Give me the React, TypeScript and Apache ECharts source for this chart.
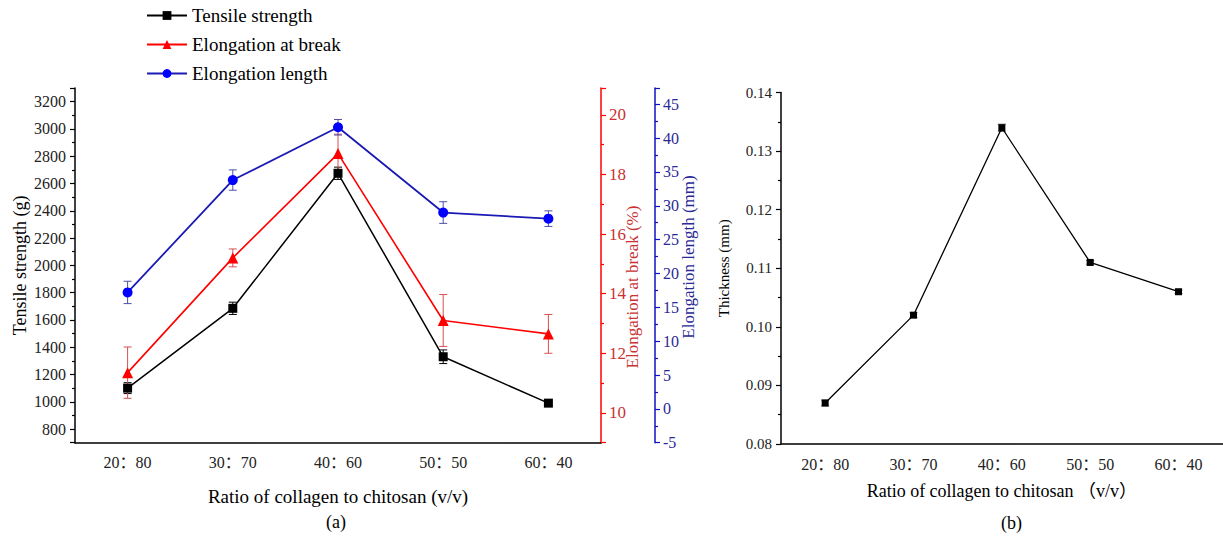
import React, { useEffect, useRef } from "react";
import * as echarts from "echarts";

const categories = ["20：80", "30：70", "40：60", "50：50", "60：40"];
const tensile = [1100, 1685, 2675, 1330, 990];
const tensileErr = [40, 45, 45, 50, 10];
const elongBreak = [11.35, 15.2, 18.7, 13.1, 12.65];
const elongBreakErr = [0.86, 0.3, 0.65, 0.87, 0.65];
const elongLen = [17.2, 33.8, 41.6, 29.0, 28.1];
const elongLenErr = [1.65, 1.5, 1.15, 1.6, 1.15];
const thickness = [0.087, 0.102, 0.134, 0.111, 0.106];
const thicknessErr = [0.0005, 0.0004, 0.0006, 0.0003, 0.0003];

const SERIF = "'Liberation Serif', 'DejaVu Serif', 'Noto Sans CJK SC', serif";
const RED = "#ff0000";
const RED_TXT = "#c83232";
const BLUE = "#0000ff";
const BLUE_AX = "#1010c0";
const BLUE_TXT = "#2a2a96";

function errSeries(vals: number[], errs: number[], color: string, xAxisIndex: number, yAxisIndex: number) {
  return {
    type: "custom",
    xAxisIndex,
    yAxisIndex,
    z: 1,
    silent: true,
    data: vals.map((v, i) => [i, v - errs[i], v + errs[i]]),
    encode: { x: 0, y: [1, 2] },
    renderItem: (params: any, api: any) => {
      const lo = api.coord([api.value(0), api.value(1)]);
      const hi = api.coord([api.value(0), api.value(2)]);
      const w = 4;
      const style = { stroke: color, lineWidth: 1, fill: "none" };
      return {
        type: "group",
        children: [
          { type: "line", shape: { x1: lo[0], y1: lo[1], x2: hi[0], y2: hi[1] }, style },
          { type: "line", shape: { x1: lo[0] - w, y1: lo[1], x2: lo[0] + w, y2: lo[1] }, style },
          { type: "line", shape: { x1: hi[0] - w, y1: hi[1], x2: hi[0] + w, y2: hi[1] }, style },
        ],
      };
    },
  };
}

function catAxis(gridIndex: number, labelSize: number, name: string, nameGap: number, nameSize: number) {
  return [
    {
      type: "category",
      gridIndex,
      data: categories,
      boundaryGap: true,
      axisLine: { onZero: false, lineStyle: { color: "#000", width: 1.5 } },
      axisTick: { alignWithLabel: true, length: 5, lineStyle: { color: "#000", width: 1.2 } },
      axisLabel: { color: "#222", fontSize: labelSize, fontFamily: SERIF, margin: 12 },
      splitLine: { show: false },
      name,
      nameLocation: "middle",
      nameGap,
      nameTextStyle: { color: "#000", fontSize: nameSize, fontFamily: SERIF },
    },
    {
      type: "category",
      gridIndex,
      data: categories,
      boundaryGap: true,
      axisLine: { show: false, onZero: false },
      axisTick: { alignWithLabel: false, length: 4, lineStyle: { color: "#000", width: 1.2 } },
      axisLabel: { show: false },
      splitLine: { show: false },
    },
  ];
}

export default function App() {
  const ref = useRef<HTMLDivElement>(null);
  useEffect(() => {
    if (!ref.current) return;
    const chart = echarts.init(ref.current, null, { renderer: "svg" });
    const plain = (v: number) => String(v);
    const option: any = {
      animation: false,
      backgroundColor: "#fff",
      textStyle: { fontFamily: SERIF },
      legend: {
        orient: "vertical",
        left: 141,
        top: 1,
        itemWidth: 40,
        itemHeight: 11,
        itemGap: 10,
        data: ["Tensile strength", "Elongation at break", "Elongation length"],
        textStyle: { fontSize: 19, fontFamily: SERIF, color: "#000" },
      },
      grid: [
        { left: 75, top: 88, width: 526, height: 354.7 },
        { left: 781, top: 92.6, width: 441.7, height: 351.4 },
      ],
      xAxis: [
        ...catAxis(0, 16, "Ratio of collagen to chitosan (v/v)", 44, 19),
        ...catAxis(1, 16, "Ratio of collagen to chitosan （v/v）", 38, 18),
      ],
      yAxis: [
        {
          type: "value",
          gridIndex: 0,
          position: "left",
          min: 700,
          max: 3300,
          splitNumber: 13,
          axisLine: { show: true, onZero: false, lineStyle: { color: "#000", width: 1.5 } },
          axisTick: { show: true, length: 5, lineStyle: { color: "#000", width: 1.2 } },
          minorTick: { show: true, splitNumber: 2, length: 3, lineStyle: { color: "#000", width: 1.2 } },
          axisLabel: {
            color: "#222",
            fontSize: 16,
            fontFamily: SERIF,
            margin: 9,
            showMinLabel: false,
            showMaxLabel: false,
            formatter: plain,
          },
          splitLine: { show: false },
          name: "Tensile strength (g)",
          nameLocation: "middle",
          nameRotate: 90,
          nameGap: 46,
          nameTextStyle: { color: "#000", fontSize: 18, fontFamily: SERIF },
        },
        {
          type: "value",
          gridIndex: 0,
          position: "right",
          min: 9,
          max: 20.9,
          splitNumber: 6,
          axisLine: { show: true, onZero: false, lineStyle: { color: RED, width: 1.5 } },
          axisTick: { show: true, length: 5, lineStyle: { color: RED, width: 1.2 } },
          minorTick: { show: true, splitNumber: 2, length: 3, lineStyle: { color: RED, width: 1.2 } },
          axisLabel: {
            color: RED_TXT,
            fontSize: 17,
            fontFamily: SERIF,
            margin: 8,
            showMinLabel: false,
            showMaxLabel: false,
            formatter: plain,
          },
          splitLine: { show: false },
        },
        {
          type: "value",
          gridIndex: 0,
          position: "right",
          offset: 54,
          min: -5,
          max: 47.4,
          interval: 5,
          axisLine: { show: true, onZero: false, lineStyle: { color: BLUE_AX, width: 1.5 } },
          axisTick: { show: true, length: 5, lineStyle: { color: BLUE_AX, width: 1.2 } },
          minorTick: { show: true, splitNumber: 2, length: 3, lineStyle: { color: BLUE_AX, width: 1.2 } },
          axisLabel: {
            color: BLUE_TXT,
            fontSize: 16,
            fontFamily: SERIF,
            margin: 8,
            showMaxLabel: false,
            formatter: plain,
          },
          splitLine: { show: false },
        },
        {
          type: "value",
          gridIndex: 1,
          position: "left",
          min: 0.08,
          max: 0.14,
          interval: 0.01,
          axisLine: { show: true, onZero: false, lineStyle: { color: "#000", width: 1.5 } },
          axisTick: { show: true, length: 5, lineStyle: { color: "#000", width: 1.2 } },
          minorTick: { show: true, splitNumber: 2, length: 3, lineStyle: { color: "#000", width: 1.2 } },
          axisLabel: {
            color: "#222",
            fontSize: 15,
            fontFamily: SERIF,
            margin: 9,
            formatter: (v: number) => v.toFixed(2),
          },
          splitLine: { show: false },
          name: "Thickness (mm)",
          nameLocation: "middle",
          nameRotate: 90,
          nameGap: 50,
          nameTextStyle: { color: "#000", fontSize: 15, fontFamily: SERIF },
        },
      ],
      series: [
        errSeries(tensile, tensileErr, "#000", 0, 0),
        errSeries(elongBreak, elongBreakErr, "#d85050", 0, 1),
        errSeries(elongLen, elongLenErr, "#5050a8", 0, 2),
        errSeries(thickness, thicknessErr, "#555", 2, 3),
        {
          name: "Tensile strength",
          type: "line",
          xAxisIndex: 0,
          yAxisIndex: 0,
          data: tensile,
          symbol: "rect",
          symbolSize: 9,
          itemStyle: { color: "#000" },
          lineStyle: { color: "#000", width: 1.5 },
          z: 3,
        },
        {
          name: "Elongation at break",
          type: "line",
          xAxisIndex: 0,
          yAxisIndex: 1,
          data: elongBreak,
          symbol: "triangle",
          symbolSize: 11,
          itemStyle: { color: RED },
          lineStyle: { color: RED, width: 1.6 },
          z: 4,
        },
        {
          name: "Elongation length",
          type: "line",
          xAxisIndex: 0,
          yAxisIndex: 2,
          data: elongLen,
          symbol: "circle",
          symbolSize: 10,
          itemStyle: { color: BLUE },
          lineStyle: { color: "#1a1ab4", width: 1.8 },
          z: 5,
        },
        {
          name: "Thickness",
          type: "line",
          xAxisIndex: 2,
          yAxisIndex: 3,
          data: thickness,
          symbol: "rect",
          symbolSize: 7,
          itemStyle: { color: "#000" },
          lineStyle: { color: "#000", width: 1.3 },
          z: 3,
        },
      ],
      graphic: [
        {
          type: "text",
          x: 632,
          y: 287,
          rotation: Math.PI / 2,
          style: {
            text: "Elongation at break (%)",
            fontSize: 17,
            fontFamily: SERIF,
            fill: RED_TXT,
            textAlign: "center",
            textVerticalAlign: "middle",
          },
        },
        {
          type: "text",
          x: 688,
          y: 257,
          rotation: Math.PI / 2,
          style: {
            text: "Elongation length (mm)",
            fontSize: 17,
            fontFamily: SERIF,
            fill: BLUE_TXT,
            textAlign: "center",
            textVerticalAlign: "middle",
          },
        },
        { type: "text", left: 326, top: 513, style: { text: "(a)", fontSize: 18, fontFamily: SERIF, fill: "#000" } },
        { type: "text", left: 1001, top: 514, style: { text: "(b)", fontSize: 18, fontFamily: SERIF, fill: "#000" } },
      ],
    };
    chart.setOption(option);
    return () => chart.dispose();
  }, []);
  return (
    <div
      ref={ref}
      style={{ position: "fixed", left: 0, top: 0, width: 1223, height: 538, background: "#fff" }}
    />
  );
}
